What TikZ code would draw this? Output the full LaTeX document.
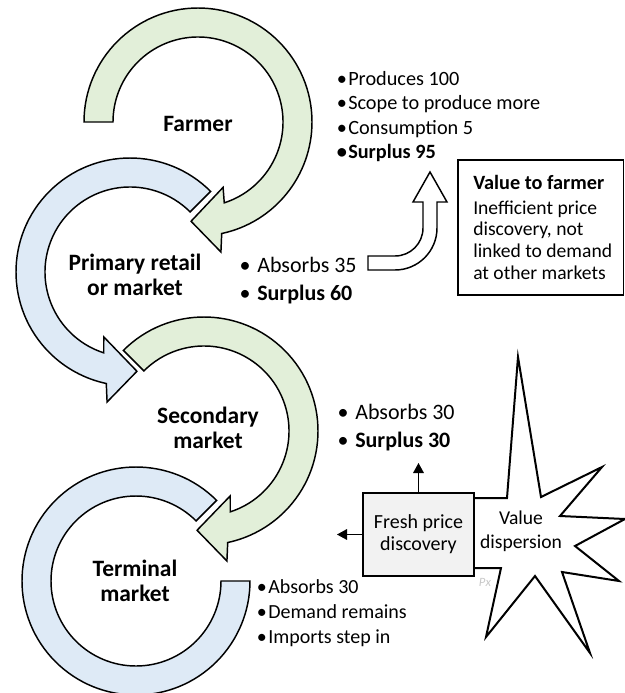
\documentclass[tikz,border=0pt]{standalone}
\usepackage{fontspec}
\setmainfont{Carlito}
\usetikzlibrary{arrows.meta}
\definecolor{arcgreen}{HTML}{E2EFD9}
\definecolor{arcblue}{HTML}{DEEAF6}
\definecolor{boxgray}{HTML}{F2F2F2}
\definecolor{pxgray}{HTML}{C8C8C8}
\begin{document}
\begin{tikzpicture}[x=0.75pt,y=0.75pt,
  arcshape/.style={draw=black, line width=1.1pt, line join=miter},
  lbl/.style={anchor=base, inner sep=0pt, font=\fontsize{17.6}{19}\selectfont\bfseries},
  listnode/.style={anchor=base west, inner sep=0pt},
  conn/.style={line width=0.8pt, -{Triangle[length=7.5pt,width=8pt]}},
]
\useasboundingbox (0,0) rectangle (625,-693);

% ---- arc 4 (terminal, blue, no head)
\begin{scope}[shift={(136,-581)}]
\path[arcshape, fill=arcblue] (45:114) arc[start angle=45, end angle=360, radius=114]
  -- (0:85) arc[start angle=360, end angle=45, radius=85] -- cycle;
\end{scope}
% ---- arc 3 (secondary, green)
\begin{scope}[shift={(204,-431)}]
\path[arcshape, fill=arcgreen] (135:114) arc[start angle=135, end angle=-78, radius=114]
  -- (-80:132) -- (-94:99.5) -- (-68:70) -- (-72:85)
  arc[start angle=-72, end angle=135, radius=85] -- cycle;
\end{scope}
% ---- arc 2 (primary, blue)
\begin{scope}[shift={(130,-272)}]
\path[arcshape, fill=arcblue] (45:114) arc[start angle=45, end angle=258, radius=114]
  -- (260:132) -- (274:99.5) -- (248:70) -- (252:85)
  arc[start angle=252, end angle=45, radius=85] -- cycle;
\end{scope}
% ---- arc 1 (farmer, green)
\begin{scope}[shift={(198,-122)}]
\path[arcshape, fill=arcgreen] (180:114) arc[start angle=180, end angle=-78, radius=114]
  -- (-80:132) -- (-94:99.5) -- (-69:70) -- (-72:85)
  arc[start angle=-72, end angle=180, radius=85] -- cycle;
\end{scope}

% ---- stage labels
\node[lbl] (farmer) at (198,-131) {Farmer};
\node[lbl] (primary) at (135,-270) {\begin{tabular}[t]{@{}c@{}}Primary retail\\or market\end{tabular}};
\node[lbl] (secondary) at (208,-423) {\begin{tabular}[t]{@{}c@{}}Secondary\\market\end{tabular}};
\node[lbl] (terminal) at (135,-576) {\begin{tabular}[t]{@{}c@{}}Terminal\\market\end{tabular}};

% ---- lists
\node[listnode, font=\fontsize{15.2}{18.4}\selectfont] (farmlist) at (348,-85)
  {\begin{tabular}[t]{@{}l@{}}\llap{•\hspace{1pt}}Produces 100\\
   \llap{•\hspace{1pt}}Scope to produce more\\
   \llap{•\hspace{1pt}}Consumption 5\\
   \bfseries\llap{•\hspace{1pt}}Surplus 95\end{tabular}};
\node[listnode, font=\fontsize{16.5}{21}\selectfont] (primlist) at (257,-272.5)
  {\begin{tabular}[t]{@{}l@{}}\llap{•\hspace{5pt}}Absorbs 35\\
   \llap{•\hspace{5pt}}\textbf{Surplus 60}\end{tabular}};
\node[listnode, font=\fontsize{16.5}{21}\selectfont] (seclist) at (355,-419.5)
  {\begin{tabular}[t]{@{}l@{}}\llap{•\hspace{5pt}}Absorbs 30\\
   \llap{•\hspace{5pt}}\textbf{Surplus 30}\end{tabular}};
\node[listnode, font=\fontsize{15}{19.1}\selectfont] (termlist) at (268,-593)
  {\begin{tabular}[t]{@{}l@{}}\llap{•\hspace{1pt}}Absorbs 30\\
   \llap{•\hspace{1pt}}Demand remains\\
   \llap{•\hspace{1pt}}Imports step in\end{tabular}};

% ---- bent block arrow (outline)
\path[draw=black, line width=1.1pt, fill=white, line join=miter]
  (368,-256) -- (395,-256) arc[start angle=-90, end angle=0, radius=28]
  -- (423,-202) -- (413,-202) -- (430,-172) -- (447,-202) -- (437,-202)
  -- (437,-228) arc[start angle=0, end angle=-90, radius=42]
  -- (368,-270) -- cycle;

% ---- value to farmer box
\draw[line width=1.1pt] (458,-160) rectangle (623.5,-295);
\node[listnode, font=\fontsize{14.7}{16.3}\selectfont] (valuetxt) at (473,-189)
  {\begin{tabular}[t]{@{}l@{}}{\fontsize{15.2}{16.3}\selectfont\bfseries Value to farmer}\\[2.5pt]
   Inefficient price\\discovery, not\\linked to demand\\at other markets\end{tabular}};

% ---- star (value dispersion)
\path[draw=black, line width=1.5pt, fill=white, line join=miter]
  (470,-498) -- (507,-498) -- (518,-357) -- (541,-497) -- (602,-467) -- (560,-516)
  -- (625,-519) -- (575,-546) -- (619,-581) -- (562,-572) -- (590,-653) -- (535,-576)
  -- (486,-637) -- (501,-568) -- (470,-568) -- cycle;
\node[align=center, inner sep=0pt, font=\fontsize{14.7}{18}\selectfont] (vd) at (521,-531) {Value\\dispersion};

% ---- fresh price discovery box
\node[draw=black, line width=1.5pt, fill=boxgray, minimum width=83.25pt, minimum height=62.25pt,
      inner sep=0pt, align=center, font=\fontsize{15}{16.5}\selectfont] (fpd) at (418.5,-534.5)
  {Fresh price\\discovery};
\node[inner sep=0pt, text=pxgray, font=\fontsize{9.5}{10}\selectfont\itshape] (px) at (485,-582) {Px};

\coordinate (upend) at (418.5,-463);
\coordinate (leftend) at (337,-534.5);
\draw[conn] (fpd.north) -- (upend);
\draw[conn] (fpd.west) -- (leftend);
\end{tikzpicture}
\end{document}
